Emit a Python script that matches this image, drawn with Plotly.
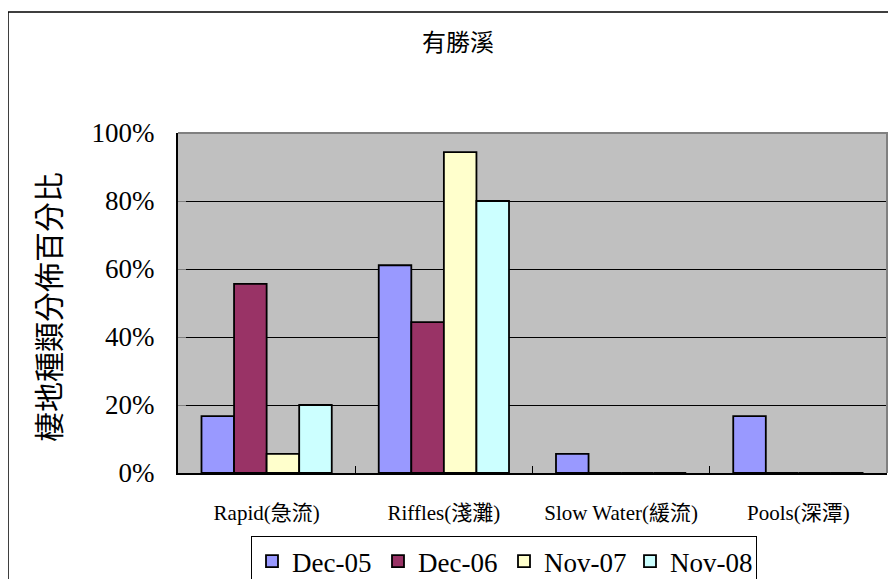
import plotly.graph_objects as go

categories = ["Rapid(急流)", "Riffles(淺灘)", "Slow Water(緩流)", "Pools(深潭)"]
series_names = ["Dec-05", "Dec-06", "Nov-07", "Nov-08"]
dec05 = [16.7, 61.1, 5.6, 16.7]
dec06 = [55.6, 44.4, 0, 0]
nov07 = [5.6, 94.4, 0, 0]
nov08 = [20.0, 80.0, 0, 0]
y_ticks = [0, 20, 40, 60, 80, 100]
title_text = "有勝溪"
y_title = "棲地種類分佈百分比"

colors = ["#9999FF", "#993366", "#FFFFCC", "#CCFFFF"]
serif = "Liberation Serif, Noto Sans CJK TC, serif"

fig = go.Figure()
for name, vals, col in zip(series_names, [dec05, dec06, nov07, nov08], colors):
    fig.add_trace(go.Bar(
        name=name, x=categories, y=vals,
        marker=dict(color=col, line=dict(color="black", width=1.8)),
    ))

# page body has an 8px margin; work in shifted pixel coordinates
OFF = 8
W, H = 896 - OFF, 579 - OFF
L, T = 178 - OFF, 133 - OFF
R = W - (887 - OFF)
B = H - (473 - OFF)
pw = W - L - R
ph = H - T - B

def px(x):
    return (x - OFF - L) / pw

def py(y):
    return (H - B - (y - OFF)) / ph

fig.update_layout(
    width=W, height=H,
    margin=dict(l=L, r=R, t=T, b=B, autoexpand=False),
    paper_bgcolor="white",
    plot_bgcolor="#C0C0C0",
    barmode="group",
    bargap=0.265,
    bargroupgap=0,
    showlegend=True,
    legend=dict(
        orientation="h",
        x=px(251), y=py(536), xanchor="left", yanchor="top",
        bordercolor="black", borderwidth=1,
        font=dict(family=serif, size=27, color="black"),
        bgcolor="white",
        entrywidth=81,
    ),
    font=dict(family=serif, color="black"),
)

fig.update_xaxes(
    type="category",
    showline=True, linecolor="black", linewidth=2,
    ticks="inside", tickson="boundaries", ticklen=7, tickcolor="black", tickwidth=1,
    tickfont=dict(family=serif, size=21, color="black"),
    ticklabelstandoff=20,
    showgrid=False,
)
fig.update_yaxes(
    range=[0, 100],
    tickvals=y_ticks,
    ticktext=[f"{v}%" for v in y_ticks],
    showline=True, linecolor="black", linewidth=2,
    ticks="inside", ticklen=8, tickcolor="#808080",
    tickfont=dict(family=serif, size=27, color="black"),
    ticklabelstandoff=16,
    showgrid=True, gridcolor="black", gridwidth=1,
    zeroline=False,
)

# gray top and right edges of plot area
fig.add_shape(type="path", xref="paper", yref="paper",
              path="M 0,1 L 1,1 L 1,0", line=dict(color="#808080", width=2), layer="above")
# outer chart border
fig.add_shape(type="rect", xref="paper", yref="paper",
              x0=px(8), x1=1.3, y0=-0.8, y1=py(12),
              line=dict(color="black", width=1.5), layer="below")

fig.add_annotation(text=title_text, xref="paper", yref="paper",
                   x=px(458), y=py(40), xanchor="center", yanchor="middle", showarrow=False,
                   font=dict(family="Noto Sans CJK TC", size=24, color="black"))
fig.add_annotation(text=y_title, xref="paper", yref="paper",
                   x=px(47), y=py(307), xanchor="center", yanchor="middle",
                   textangle=-90, showarrow=False,
                   font=dict(family="Noto Sans CJK TC", size=30, color="black"))

fig.write_html("out.html")
